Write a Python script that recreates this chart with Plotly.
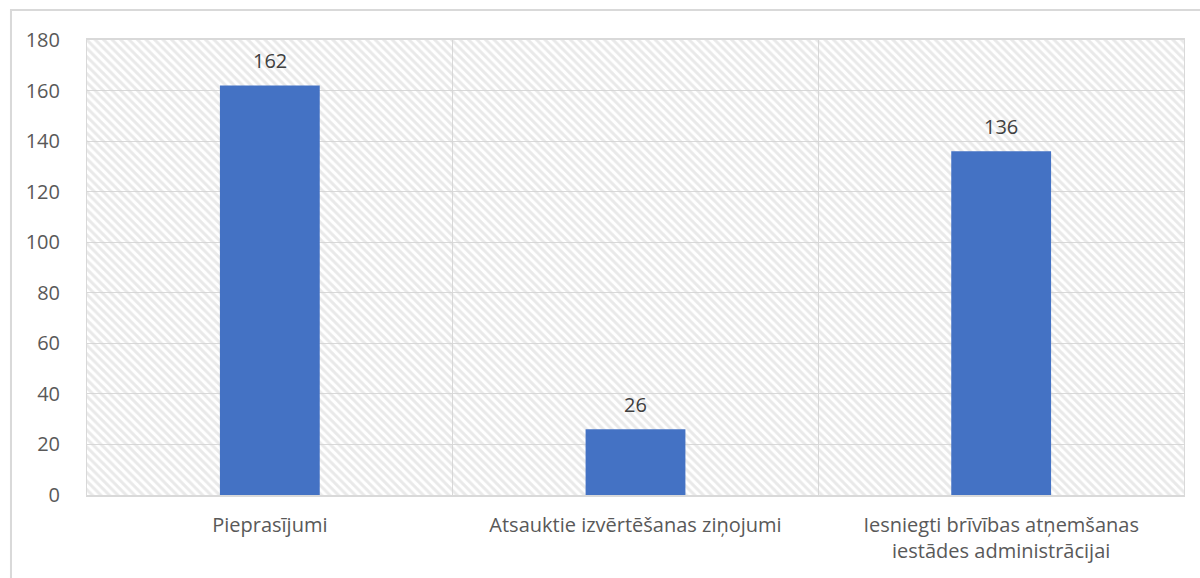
import plotly.graph_objects as go

categories = [
    "Pieprasījumi",
    "Atsauktie izvērtēšanas ziņojumi",
    "Iesniegti brīvības atņemšanas<br>iestādes administrācijai",
]
values = [162, 26, 136]
y_max = 180
y_ticks = [0, 20, 40, 60, 80, 100, 120, 140, 160, 180]

grid = "#d9d9d9"
text_grey = "#595959"
font = "Open Sans"

fig = go.Figure()
# hatched plot background, one full-width bar per category
fig.add_bar(
    x=categories,
    y=[y_max] * len(categories),
    width=1,
    marker={
        "color": "rgba(0,0,0,0)",
        "line": {"width": 0},
        "pattern": {
            "shape": "\\",
            "fgcolor": "#d4d4d4",
            "bgcolor": "rgba(0,0,0,0)",
            "size": 6,
            "solidity": 0.5,
        },
    },
    hoverinfo="skip",
    showlegend=False,
)
fig.add_bar(
    x=categories,
    y=values,
    width=0.273,
    marker={"color": "#4472c4", "line": {"width": 0}},
    showlegend=False,
)

for cat, val in zip(categories, values):
    fig.add_annotation(
        x=cat, y=val, text=str(val), showarrow=False,
        yanchor="middle", yshift=25,
        font={"family": font, "size": 20, "color": "#404040"},
    )

# outer chart frame
fig.add_shape(
    type="rect", xref="paper", yref="paper",
    x0=-0.0693, x1=1.02, y0=-0.2, y1=1.066,
    line={"color": grid, "width": 2}, fillcolor="rgba(0,0,0,0)", layer="below",
)

fig.update_layout(
    width=1200,
    height=578,
    barmode="overlay",
    plot_bgcolor="white",
    paper_bgcolor="white",
    margin={"l": 87, "r": 16, "t": 40, "b": 83},
    font={"family": font, "size": 20, "color": text_grey},
    xaxis={
        "type": "category",
        "tickson": "boundaries",
        "showgrid": True,
        "gridcolor": grid,
        "gridwidth": 1,
        "showline": True,
        "linecolor": grid,
        "linewidth": 2,
        "mirror": True,
        "ticks": "",
        "ticklabelstandoff": 11,
        "range": [-0.5, 2.5],
    },
    yaxis={
        "range": [0, y_max],
        "tickvals": y_ticks,
        "showgrid": True,
        "gridcolor": grid,
        "gridwidth": 1,
        "showline": True,
        "linecolor": grid,
        "linewidth": 1,
        "mirror": True,
        "zeroline": False,
        "ticks": "",
        "ticklabelstandoff": 22,
    },
)

fig.write_html(
    "out.html",
    config={"displayModeBar": False},
    post_script="document.body.style.margin='0';",
)
